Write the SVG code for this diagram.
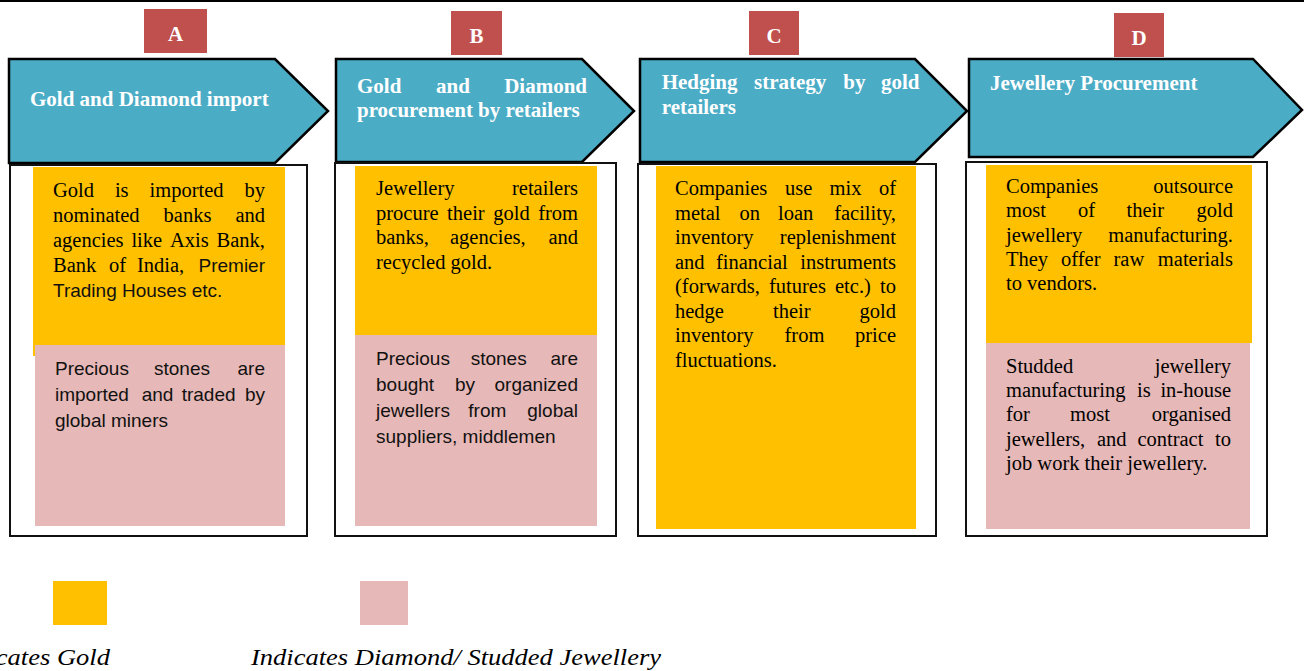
<svg xmlns="http://www.w3.org/2000/svg" width="1304" height="671" viewBox="0 0 1304 671">
<style>
.s{font-family:"Liberation Serif","Times New Roman",serif;font-size:20.5px;fill:#000}
.f{font-family:"Liberation Sans",Arial,sans-serif;font-size:19px;fill:#111}
.e{text-anchor:end}
.t{font-family:"Liberation Serif","Times New Roman",serif;font-weight:bold;font-size:21px;fill:#fff}
.lbl{font-family:"Liberation Serif","Times New Roman",serif;font-weight:bold;font-size:21px;fill:#fff;text-anchor:middle}
.lg{font-family:"Liberation Serif","Times New Roman","DejaVu Serif",serif;font-style:italic;font-size:24px;fill:#000}
.arrow{fill:#4BACC6;stroke:#000;stroke-width:2.5;stroke-linejoin:miter}
.body{fill:#fff;stroke:#111;stroke-width:2}
.red{fill:#C0504D}
.gold{fill:#FFC000}
.pink{fill:#E6B8B7}
</style>
<rect x="0" y="0" width="1304" height="2" fill="#000"/>
<g id="connectors"></g>

<g id="node-A">
<rect class="red" x="144" y="9" width="63" height="44"/>
<text class="lbl" x="175.5" y="41">A</text>
<polygon class="arrow" points="9,59 275,59 328,111 275,163 9,163"/>
<text class="t" x="30" y="106">Gold and Diamond import</text>
<rect class="body" x="10" y="165" width="297" height="371"/>
<rect class="gold" x="33" y="167" width="252" height="178"/>
<rect class="gold" x="33" y="345" width="3" height="11"/>
<rect class="pink" x="35" y="345" width="250" height="181"/>
<text class="s" y="197"><tspan x="53">Gold</tspan><tspan x="114.9">is</tspan><tspan x="149.5">imported</tspan></text><text class="s e" x="265" y="197">by</text>
<text class="s" y="222"><tspan x="53">nominated</tspan><tspan x="163.6">banks</tspan></text><text class="s e" x="265" y="222">and</text>
<text class="s" y="247"><tspan x="53">agencies</tspan><tspan x="131.4">like</tspan><tspan x="169.9">Axis</tspan></text><text class="s e" x="265" y="247">Bank,</text>
<text class="s" y="272"><tspan x="53">Bank</tspan><tspan x="109">of</tspan><tspan x="137">India,</tspan></text><text class="f e" x="265" y="272">Premier</text>
<text class="f" x="53" y="297">Trading Houses etc.</text>
<text class="f" y="375"><tspan x="55">Precious</tspan><tspan x="154">stones</tspan></text><text class="f e" x="265" y="375">are</text>
<text class="f" y="401"><tspan x="55">imported</tspan><tspan x="141.7">and</tspan><tspan x="181.7">traded</tspan></text><text class="f e" x="265" y="401">by</text>
<text class="f" x="55" y="427">global miners</text>
</g>

<g id="node-B">
<rect class="red" x="451" y="11" width="51" height="44"/>
<text class="lbl" x="476.5" y="43">B</text>
<polygon class="arrow" points="336,59 582,59 634,111 582,162 336,162"/>
<text class="t" y="93"><tspan x="357">Gold</tspan><tspan x="436">and</tspan></text><text class="t e" x="587" y="93">Diamond</text>
<text class="t" x="357" y="117">procurement by retailers</text>
<rect class="body" x="335" y="163" width="281" height="373"/>
<rect class="gold" x="355" y="166" width="242" height="169"/>
<rect class="pink" x="355" y="335" width="242" height="191"/>
<text class="s" x="376" y="195">Jewellery</text><text class="s e" x="578" y="195">retailers</text>
<text class="s" y="220"><tspan x="376">procure</tspan><tspan x="447.1">their</tspan><tspan x="493.2">gold</tspan></text><text class="s e" x="578" y="220">from</text>
<text class="s" y="244"><tspan x="376">banks,</tspan><tspan x="450">agencies,</tspan></text><text class="s e" x="578" y="244">and</text>
<text class="s" x="376" y="269">recycled gold.</text>
<text class="f" y="365"><tspan x="376">Precious</tspan><tspan x="470.7">stones</tspan></text><text class="f e" x="578" y="365">are</text>
<text class="f" y="391"><tspan x="376">bought</tspan><tspan x="455">by</tspan></text><text class="f e" x="578" y="391">organized</text>
<text class="f" y="417"><tspan x="376">jewellers</tspan><tspan x="468.3">from</tspan></text><text class="f e" x="578" y="417">global</text>
<text class="f" x="376" y="443">suppliers, middlemen</text>
</g>

<g id="node-C">
<rect class="red" x="749" y="11" width="50" height="44"/>
<text class="lbl" x="774" y="43">C</text>
<polygon class="arrow" points="640,59 915,59 967,111 915,162 640,162"/>
<text class="t" y="89"><tspan x="661.7">Hedging</tspan><tspan x="754">strategy</tspan><tspan x="843.3">by</tspan></text><text class="t e" x="919.5" y="89">gold</text>
<text class="t" x="661.7" y="114">retailers</text>
<rect class="body" x="638" y="164" width="298" height="372"/>
<rect class="gold" x="656" y="166" width="260" height="363"/>
<text class="s" y="195"><tspan x="675">Companies</tspan><tspan x="785">use</tspan><tspan x="829.5">mix</tspan></text><text class="s e" x="896" y="195">of</text>
<text class="s" y="219.5"><tspan x="675">metal</tspan><tspan x="739.4">on</tspan><tspan x="778">loan</tspan></text><text class="s e" x="896" y="219.5">facility,</text>
<text class="s" x="675" y="244">inventory</text><text class="s e" x="896" y="244">replenishment</text>
<text class="s" y="269"><tspan x="675">and</tspan><tspan x="716">financial</tspan></text><text class="s e" x="896" y="269">instruments</text>
<text class="s" y="293"><tspan x="675">(forwards,</tspan><tspan x="769">futures</tspan><tspan x="835">etc.)</tspan></text><text class="s e" x="896" y="293">to</text>
<text class="s" y="318"><tspan x="675">hedge</tspan><tspan x="773">their</tspan></text><text class="s e" x="896" y="318">gold</text>
<text class="s" y="342"><tspan x="675">inventory</tspan><tspan x="784.5">from</tspan></text><text class="s e" x="896" y="342">price</text>
<text class="s" x="675" y="367">fluctuations.</text>
</g>

<g id="node-D">
<rect class="red" x="1114" y="13" width="50" height="44"/>
<text class="lbl" x="1139" y="45">D</text>
<polygon class="arrow" points="969,59 1253,59 1302,110 1253,157 969,157"/>
<text class="t" x="990" y="90">Jewellery Procurement</text>
<rect class="body" x="966" y="162" width="301" height="374"/>
<rect class="gold" x="986" y="165" width="266" height="178"/>
<rect class="pink" x="986" y="343" width="264" height="186"/>
<text class="s" x="1006" y="193">Companies</text><text class="s e" x="1233" y="193">outsource</text>
<text class="s" y="217"><tspan x="1006">most</tspan><tspan x="1077.9">of</tspan><tspan x="1126.5">their</tspan></text><text class="s e" x="1233" y="217">gold</text>
<text class="s" x="1006" y="242">jewellery</text><text class="s e" x="1233" y="242">manufacturing.</text>
<text class="s" y="266"><tspan x="1006">They</tspan><tspan x="1061">offer</tspan><tspan x="1113.5">raw</tspan></text><text class="s e" x="1233" y="266">materials</text>
<text class="s" x="1006" y="290">to vendors.</text>
<text class="s" x="1006" y="373">Studded</text><text class="s e" x="1231" y="373">jewellery</text>
<text class="s" y="397"><tspan x="1006">manufacturing</tspan><tspan x="1137">is</tspan></text><text class="s e" x="1231" y="397">in-house</text>
<text class="s" y="421"><tspan x="1006">for</tspan><tspan x="1070">most</tspan></text><text class="s e" x="1231" y="421">organised</text>
<text class="s" y="446"><tspan x="1006">jewellers,</tspan><tspan x="1097">and</tspan><tspan x="1137.4">contract</tspan></text><text class="s e" x="1231" y="446">to</text>
<text class="s" x="1006" y="470">job work their jewellery.</text>
</g>

<g id="legend">
<rect class="gold" x="53" y="581" width="54" height="44"/>
<rect class="pink" x="360" y="581" width="48" height="44"/>
<text class="lg" x="-47" y="665" textLength="157" lengthAdjust="spacingAndGlyphs">Indicates Gold</text>
<text class="lg" x="251" y="665" textLength="410" lengthAdjust="spacingAndGlyphs">Indicates Diamond/ Studded Jewellery</text>
</g>
</svg>
